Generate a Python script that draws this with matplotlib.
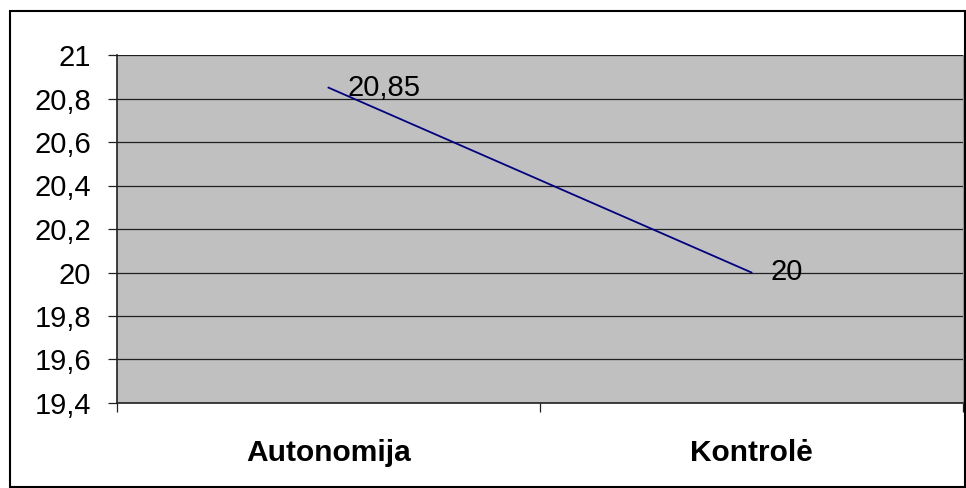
import matplotlib.pyplot as plt
from matplotlib.patches import Rectangle
from matplotlib.ticker import FuncFormatter, FixedLocator

categories = ['Autonomija', 'Kontrolė']
values = [20.85, 20.0]
value_labels = ['20,85', '20']
y_ticks = [19.4, 19.6, 19.8, 20.0, 20.2, 20.4, 20.6, 20.8, 21.0]

plt.rcParams['font.family'] = ['Liberation Sans', 'DejaVu Sans']

fig = plt.figure(figsize=(9.66, 4.88), dpi=100)
fig.patches.append(Rectangle((10 / 966, 1 / 488), 955 / 966, 476 / 488,
                             transform=fig.transFigure, fill=False,
                             edgecolor='black', linewidth=1.5))

ax = fig.add_axes([117 / 966, 85 / 488, 846 / 966, 348 / 488])
ax.set_facecolor('#c0c0c0')

x = list(range(len(categories)))
ax.plot(x, values, color='#000080', linewidth=1.3, zorder=3)
for xi, v, lab in zip(x, values, value_labels):
    ax.annotate(lab, (xi, v), xytext=(14, 0), textcoords='offset points',
                va='center', ha='left', fontsize=21, zorder=4)

ax.set_xlim(-0.5, 1.5)
ax.set_ylim(19.4, 21.0)
ax.set_yticks(y_ticks)
ax.yaxis.set_major_formatter(FuncFormatter(lambda v, p: ('%g' % round(v, 2)).replace('.', ',')))
ax.grid(axis='y', color='#202020', linewidth=0.9)
ax.set_axisbelow(True)

ax.xaxis.set_major_locator(FixedLocator([-0.5, 0.5, 1.5]))
ax.set_xticklabels([])
ax.xaxis.set_minor_locator(FixedLocator(x))
ax.set_xticklabels(categories, minor=True, fontsize=21.5, fontweight='bold')
ax.tick_params(axis='x', which='minor', length=0, pad=26)
ax.tick_params(axis='x', which='major', length=6.5, width=0.9, color='#202020')
ax.tick_params(axis='y', length=6.5, width=0.9, color='#202020', labelsize=21, pad=12)

for s in ['left', 'bottom']:
    ax.spines[s].set_color('#202020')
    ax.spines[s].set_linewidth(1.2)
ax.spines['top'].set_visible(False)
ax.spines['right'].set_color('#999999')

fig.savefig('out.png', dpi=100)
